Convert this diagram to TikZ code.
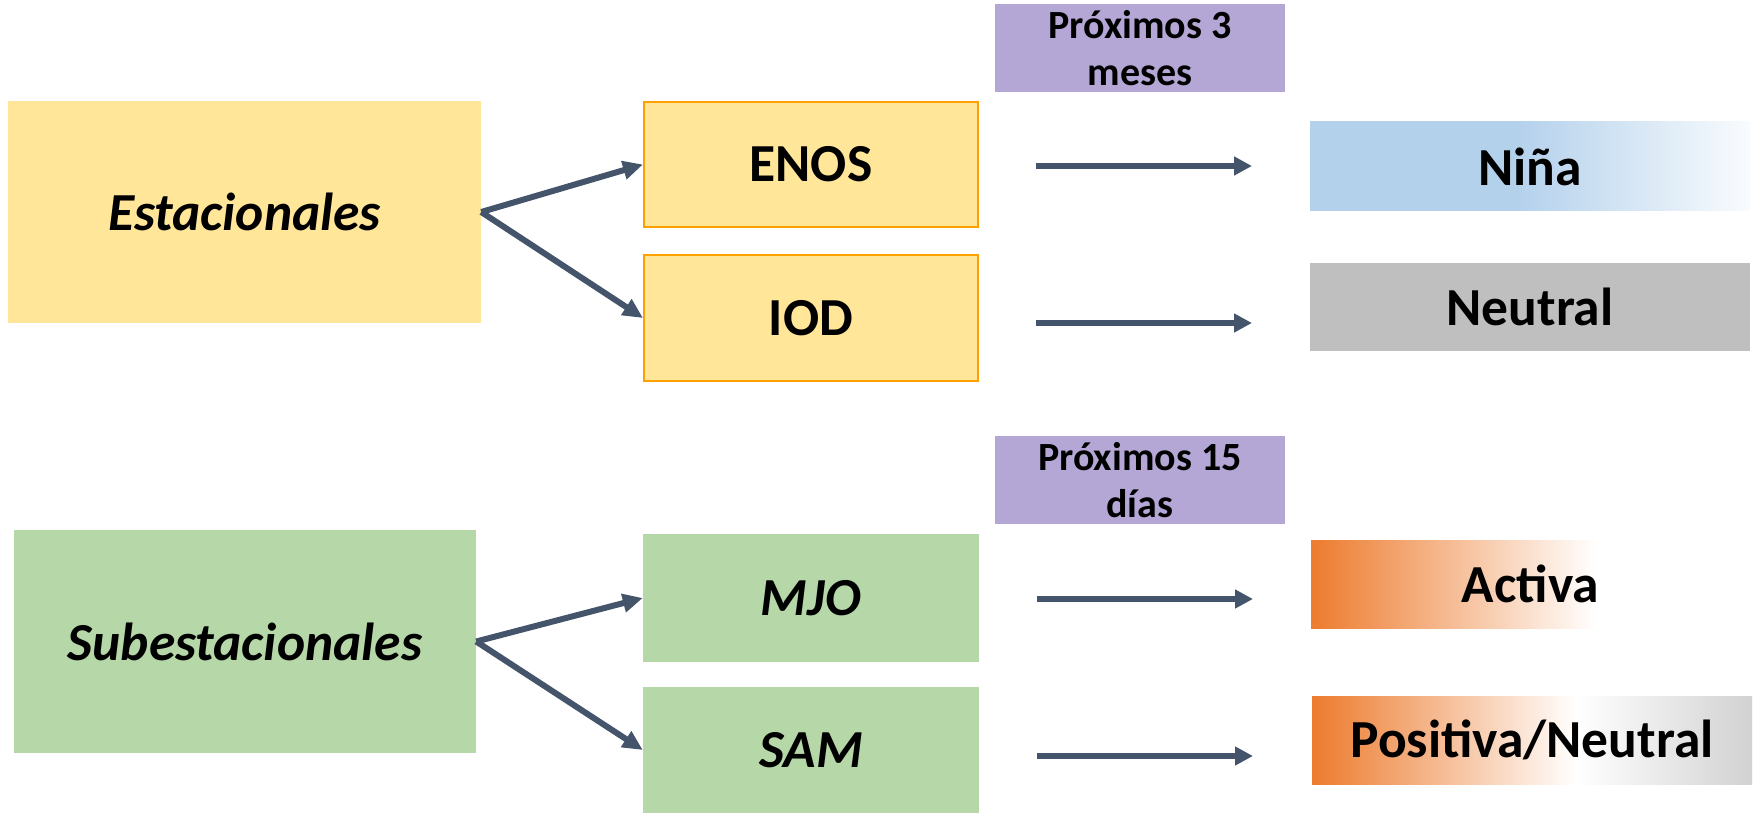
\documentclass[tikz,border=0pt]{standalone}
\usepackage{fontspec}
\setmainfont{Carlito}
\usetikzlibrary{arrows.meta}
\definecolor{amarillo}{HTML}{FFE699}
\definecolor{naranjaborde}{HTML}{FFA000}
\definecolor{verde}{HTML}{B6D7A8}
\definecolor{lila}{HTML}{B4A7D6}
\definecolor{gris}{HTML}{BFBFBF}
\definecolor{celeste}{HTML}{B4D1EC}
\definecolor{naranja}{HTML}{ED7D31}
\definecolor{grisclaro}{HTML}{D2D2D2}
\definecolor{azulflecha}{HTML}{44546A}
\pgfdeclarehorizontalshading{ninasombra}{100bp}{color(0bp)=(celeste); color(48.5bp)=(celeste); color(75bp)=(celeste!8); color(100bp)=(celeste!8)}
\pgfdeclarehorizontalshading{activasombra}{100bp}{color(0bp)=(naranja); color(25.5bp)=(naranja); color(57.5bp)=(white); color(100bp)=(white)}
\pgfdeclarehorizontalshading{posneusombra}{100bp}{color(0bp)=(naranja); color(25.5bp)=(naranja); color(55bp)=(white); color(75bp)=(grisclaro); color(100bp)=(grisclaro)}

\begin{document}
\begin{tikzpicture}[x=1pt,y=-1pt,
  caja/.style={rectangle,inner sep=0pt,font=\fontsize{53.5}{60}\selectfont\bfseries},
  cajait/.style={caja,font=\fontsize{53.5}{60}\selectfont\bfseries\itshape},
  plazo/.style={rectangle,inner sep=0pt,fill=lila,minimum width=290pt,minimum height=88pt,
    align=center,font=\fontsize{40}{47}\selectfont\bfseries},
  flechita/.style={draw=azulflecha,line width=6pt,-{Triangle[length=20pt,width=18pt]}},
  flechah/.style={draw=azulflecha,line width=6pt,-{Triangle[length=18pt,width=18pt]}}]
  \useasboundingbox (0,0) rectangle (1754,813);

  \node[cajait,fill=amarillo,minimum width=473pt,minimum height=222pt] (est) at (244.5,212) {Estacionales};
  \node[caja,fill=amarillo,draw=naranjaborde,line width=2pt,minimum width=334pt,minimum height=125pt] (enos) at (811,164.5) {ENOS};
  \node[caja,fill=amarillo,draw=naranjaborde,line width=2pt,minimum width=334pt,minimum height=126pt] (iod) at (811,318) {IOD};
  \node[plazo] (tres) at (1140,48) {Próximos 3\\meses};
  \node[caja,shading=ninasombra,minimum width=440pt,minimum height=89pt] (nina) at (1530,166.5) {Niña};
  \node[caja,fill=gris,minimum width=440pt,minimum height=88pt] (neutro) at (1530,307) {Neutral};

  \node[cajait,fill=verde,minimum width=462pt,minimum height=223pt] (sub) at (245,641.5) {Subestacionales};
  \node[cajait,fill=verde,minimum width=336pt,minimum height=128pt] (mjo) at (811,598) {MJO};
  \node[cajait,fill=verde,minimum width=336pt,minimum height=126pt] (sam) at (811,750) {SAM};
  \node[plazo] (quince) at (1140,480) {Próximos 15\\días};
  \node[caja,shading=activasombra,minimum width=439pt,minimum height=88pt] (activa) at (1530.5,584) {Activa};
  \node[caja,shading=posneusombra,minimum width=440pt,minimum height=88pt] (posneu) at (1532,740) {Positiva/Neutral};

  \draw[flechita] (est.east) -- (enos.west);
  \draw[flechita] (est.east) -- (iod.west);
  \draw[flechita] (sub.east) -- (mjo.west);
  \draw[flechita] (sub.east) -- (sam.west);

  \coordinate (h1a) at (1036,166);  \coordinate (h1b) at (1252,166);
  \coordinate (h2a) at (1036,323);  \coordinate (h2b) at (1252,323);
  \coordinate (h3a) at (1037,599);  \coordinate (h3b) at (1253,599);
  \coordinate (h4a) at (1037,756);  \coordinate (h4b) at (1253,756);
  \draw[flechah] (h1a) -- (h1b);
  \draw[flechah] (h2a) -- (h2b);
  \draw[flechah] (h3a) -- (h3b);
  \draw[flechah] (h4a) -- (h4b);
\end{tikzpicture}
\end{document}
